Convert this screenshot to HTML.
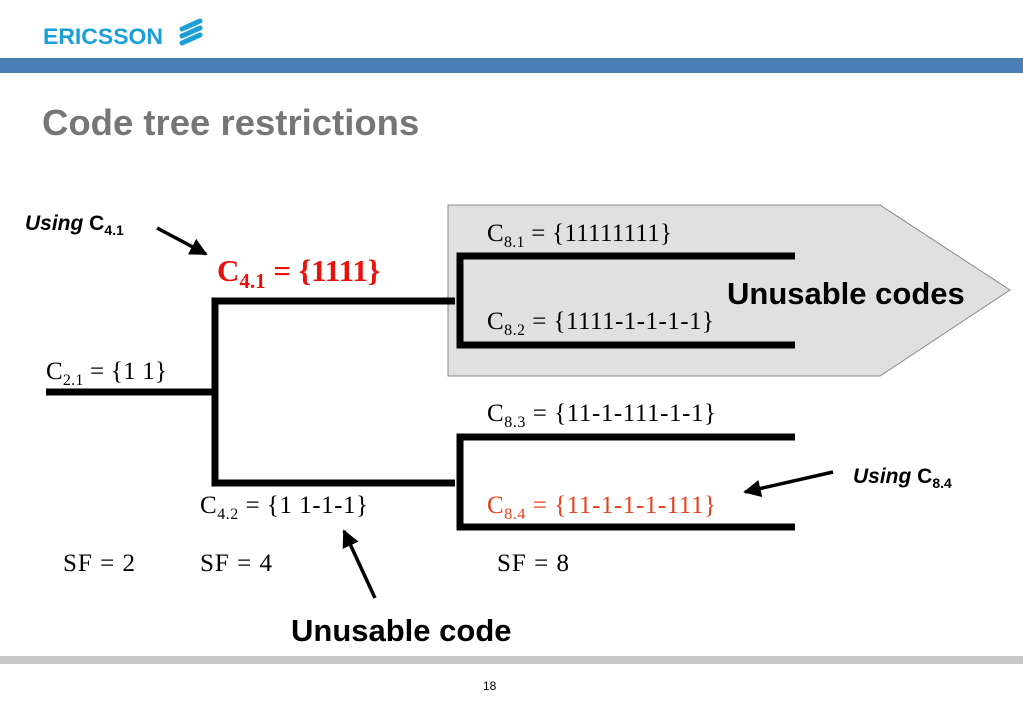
<!DOCTYPE html>
<html><head><meta charset="utf-8"><style>
html,body{margin:0;padding:0;background:#fff;width:1023px;height:708px;overflow:hidden}
svg{display:block}
.s{font-family:"Liberation Sans",sans-serif}
.r{font-family:"Liberation Serif",serif}
</style></head><body>
<svg width="1023" height="708" viewBox="0 0 1023 708" xmlns="http://www.w3.org/2000/svg">
<defs><marker id="ah" viewBox="0 0 10 10" refX="9" refY="5" markerWidth="5" markerHeight="5" orient="auto"><path d="M0,0L10,5L0,10z" fill="#000"/></marker></defs>
<text x="43" y="44" class="s" font-size="22" font-weight="bold" fill="#1a9fd8" textLength="120" lengthAdjust="spacingAndGlyphs">ERICSSON</text>
<g stroke="#1a9fd8" stroke-width="5" stroke-linecap="round">
<line x1="182" y1="29" x2="200" y2="21"/><line x1="182" y1="36" x2="200" y2="28"/><line x1="182" y1="43" x2="200" y2="35"/></g>
<rect x="0" y="58" width="1023" height="15" fill="#4a7fb5"/>
<text x="42" y="135" class="s" font-size="36.5" font-weight="bold" fill="#767676">Code tree restrictions</text>
<polygon points="448,205 880,205 1010,290 880,376 448,376" fill="#e0e0e0" stroke="#888" stroke-width="1"/>
<g stroke="#000" stroke-width="7" fill="none">
<line x1="46" y1="392" x2="215" y2="392"/>
<polyline points="455,301 215,301 215,483 455,483"/>
<polyline points="795,256 460,256 460,345 795,345"/>
<polyline points="795,437 460,437 460,527 795,527"/>
</g>
<g class="r" font-size="25">
<text x="487" y="241" textLength="185">C<tspan font-size="16" dy="6">8.1</tspan><tspan dy="-6"> = {11111111}</tspan></text>
<text x="487" y="329" textLength="227">C<tspan font-size="16" dy="6">8.2</tspan><tspan dy="-6"> = {1111-1-1-1-1}</tspan></text>
<text x="487" y="421" textLength="229">C<tspan font-size="16" dy="6">8.3</tspan><tspan dy="-6"> = {11-1-111-1-1}</tspan></text>
<text x="487" y="513" fill="#e8401c" textLength="229">C<tspan font-size="16" dy="6">8.4</tspan><tspan dy="-6"> = {11-1-1-1-111}</tspan></text>
<text x="200" y="513" textLength="168">C<tspan font-size="16" dy="6">4.2</tspan><tspan dy="-6"> = {1 1-1-1}</tspan></text>
<text x="46" y="379" textLength="121">C<tspan font-size="16" dy="6">2.1</tspan><tspan dy="-6"> = {1 1}</tspan></text>
<text x="63" y="571" textLength="72">SF = 2</text><text x="200" y="571" textLength="72">SF = 4</text><text x="497" y="571" textLength="72">SF = 8</text>
</g>
<text x="217" y="281" class="r" font-size="31" font-weight="bold" fill="#e8120c">C<tspan font-size="21" dy="7">4.1</tspan><tspan dy="-7"> = {1111}</tspan></text>
<text x="727" y="304" class="s" font-size="31" font-weight="bold">Unusable codes</text>
<text x="291" y="641" class="s" font-size="31" font-weight="bold">Unusable code</text>
<text x="25" y="230" class="s" font-size="21" font-weight="bold"><tspan font-style="italic">Using</tspan> C<tspan font-size="14" dy="5">4.1</tspan></text>
<text x="853" y="483" class="s" font-size="21" font-weight="bold"><tspan font-style="italic">Using</tspan> C<tspan font-size="14" dy="5">8.4</tspan></text>
<g stroke="#000" stroke-width="3.5" marker-end="url(#ah)">
<line x1="157" y1="228" x2="206" y2="254"/>
<line x1="833" y1="472" x2="745" y2="492"/>
<line x1="375" y1="598" x2="344" y2="531"/>
</g>
<rect x="0" y="656" width="1023" height="8" fill="#c8c8c8"/>
<text x="483" y="690" class="s" font-size="12">18</text>
</svg>
</body></html>
